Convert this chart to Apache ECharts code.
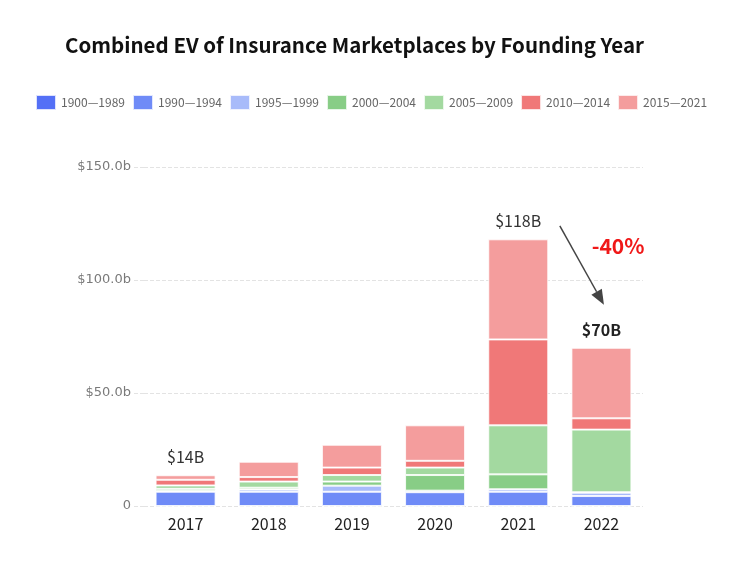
<!DOCTYPE html>
<html>
<head>
<meta charset="utf-8">
<script src="https://cdn.jsdelivr.net/npm/echarts@6/dist/echarts.min.js"></script>
<style>
html,body{margin:0;padding:0;background:#fff;}
#chart{width:747px;height:577px;}
</style>
</head>
<body>
<div id="chart"></div>
<script>
// ---- data ----
var years = ['2017', '2018', '2019', '2020', '2021', '2022'];
var seriesNames = ['1900—1989', '1990—1994', '1995—1999', '2000—2004', '2005—2009', '2010—2014', '2015—2021'];
var s1900_1989 = [0, 0, 0, 0, 0, 0];
var s1990_1994 = [6.3, 6.3, 6.3, 6.1, 6.3, 4.4];
var s1995_1999 = [0.5, 1.0, 2.7, 0.7, 1.1, 1.5];
var s2000_2004 = [0.8, 0.8, 1.8, 6.9, 6.6, 0.2];
var s2005_2009 = [1.5, 2.7, 2.9, 3.3, 21.7, 27.7];
var s2010_2014 = [2.5, 2.0, 3.3, 3.0, 38.0, 5.0];
var s2015_2021 = [2.0, 6.8, 10.1, 15.7, 44.3, 31.2];
var totalLabels = ['$14B', '', '', '', '$118B', '$70B'];
var yTicks = [0, 50, 100, 150];
var changeLabel = '-40%';

var colors = ['#5470f6', '#6f8bf7', '#a8bbfa', '#88cd86', '#a3d9a0', '#f07878', '#f49d9d'];
var allData = [s1900_1989, s1990_1994, s1995_1999, s2000_2004, s2005_2009, s2010_2014, s2015_2021];
var FONT = '"Noto Sans CJK SC", "Noto Sans", sans-serif';

var chart = echarts.init(document.getElementById('chart'));

var series = seriesNames.map(function (name, i) {
  var s = {
    name: name,
    type: 'bar',
    stack: 'ev',
    barWidth: 60,
    data: allData[i],
    itemStyle: { color: colors[i], borderColor: 'rgba(255,255,255,0.8)', borderWidth: 1 },
    emphasis: { disabled: true }
  };
  if (i === seriesNames.length - 1) {
    s.label = {
      show: true,
      position: 'top',
      distance: 10,
      fontFamily: FONT,
      fontSize: 16,
      color: '#333',
      formatter: function (p) {
        var t = totalLabels[p.dataIndex];
        if (!t) return '';
        return p.dataIndex === years.length - 1 ? '{b|' + t + '}' : t;
      },
      rich: { b: { fontFamily: FONT, fontSize: 16, fontWeight: 'bold', color: '#222' } }
    };
  }
  return s;
});

chart.setOption({
  animation: false,
  backgroundColor: '#fff',
  title: {
    text: 'Combined EV of Insurance Marketplaces by Founding Year',
    left: 60,
    top: 30,
    textStyle: { fontFamily: FONT, fontSize: 20.5, fontWeight: 'bold', color: '#111' }
  },
  legend: {
    left: 30,
    top: 89,
    itemWidth: 20,
    itemHeight: 15,
    itemGap: 7,
    icon: 'rect',
    data: seriesNames,
    textStyle: { fontFamily: FONT, fontSize: 12, color: '#666' }
  },
  grid: { left: 144, right: 104, top: 167, bottom: 71 },
  xAxis: {
    type: 'category',
    data: years,
    axisLine: { show: false },
    axisTick: { show: false },
    axisLabel: { fontFamily: FONT, fontSize: 16, color: '#222', margin: 10 }
  },
  yAxis: {
    type: 'value',
    min: yTicks[0],
    max: yTicks[yTicks.length - 1],
    interval: yTicks[1] - yTicks[0],
    axisLine: { show: false },
    axisTick: { show: true, length: 12, lineStyle: { color: '#e3e3e3', type: 'dashed' } },
    axisLabel: {
      fontFamily: '"DejaVu Sans", sans-serif',
      fontSize: 13,
      color: '#7a7a7a',
      margin: 13,
      formatter: function (v) { return v === 0 ? '0' : '$' + v.toFixed(1) + 'b'; }
    },
    splitLine: { show: true, lineStyle: { color: '#e3e3e3', type: 'dashed' } }
  },
  series: series
});

// annotation arrow and change label, positioned in data space
function px(catFrac, val) {
  var a = chart.convertToPixel({ gridIndex: 0 }, [0, val]);
  var b = chart.convertToPixel({ gridIndex: 0 }, [1, val]);
  var step = b[0] - a[0];
  return [a[0] + catFrac * step, a[1]];
}
var p0 = px(4.5, 124);
var p1 = px(5.03, 89);
var dx = p1[0] - p0[0], dy = p1[1] - p0[1];
var len = Math.sqrt(dx * dx + dy * dy);
var ux = dx / len, uy = dy / len;
var headL = 15, headW = 6;
var base = [p1[0] - ux * headL, p1[1] - uy * headL];
var textPos = px(5.2, 115);

chart.setOption({
  graphic: [
    {
      type: 'line',
      shape: { x1: p0[0], y1: p0[1], x2: base[0], y2: base[1] },
      style: { stroke: '#444', lineWidth: 1.5 },
      silent: true
    },
    {
      type: 'polygon',
      shape: { points: [
        [p1[0], p1[1]],
        [base[0] - uy * headW, base[1] + ux * headW],
        [base[0] + uy * headW, base[1] - ux * headW]
      ] },
      style: { fill: '#444' },
      silent: true
    },
    {
      type: 'text',
      x: textPos[0],
      y: textPos[1],
      style: {
        text: changeLabel,
        fill: '#f01818',
        font: 'bold 21px ' + FONT,
        align: 'center',
        verticalAlign: 'middle'
      },
      silent: true
    }
  ]
});
</script>
</body>
</html>
